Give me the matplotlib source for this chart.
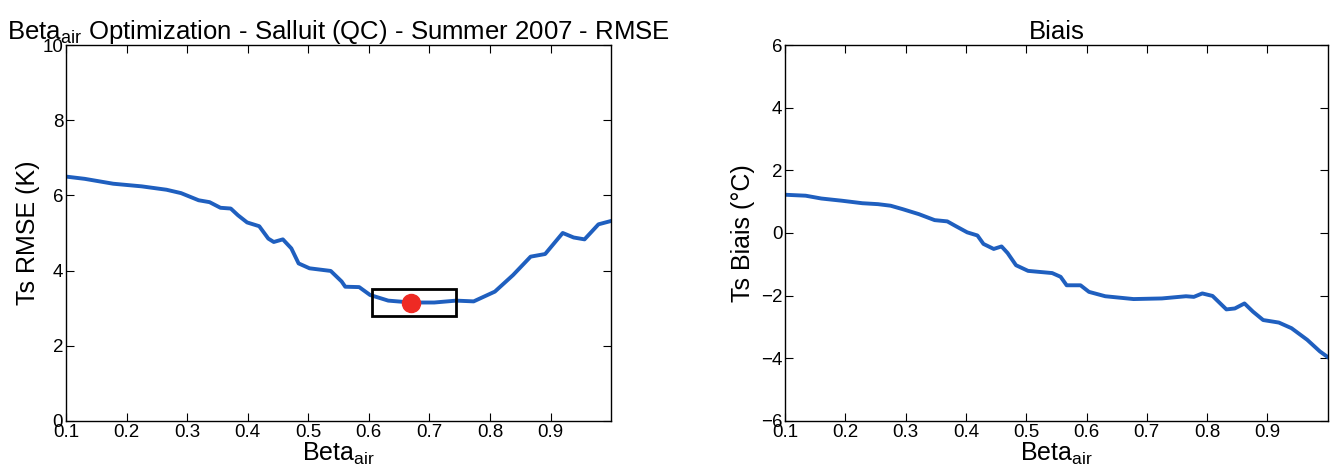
import matplotlib
matplotlib.use("Agg")
import matplotlib.pyplot as plt
from matplotlib.patches import Rectangle

plt.rcParams['font.family'] = ['Liberation Sans', 'DejaVu Sans']
plt.rcParams['mathtext.fontset'] = 'custom'
plt.rcParams['mathtext.rm'] = 'Liberation Sans'
plt.rcParams['mathtext.it'] = 'Liberation Sans'

# RMSE curve (left)
beta_rmse = [0.100, 0.131, 0.178, 0.225, 0.266, 0.290, 0.319, 0.337, 0.355, 0.372,
             0.384, 0.399, 0.419, 0.434, 0.443, 0.458, 0.472, 0.484, 0.502, 0.537,
             0.555, 0.561, 0.584, 0.602, 0.632, 0.670, 0.708, 0.744, 0.773, 0.808,
             0.838, 0.867, 0.891, 0.920, 0.938, 0.956, 0.979, 1.000]
rmse = [6.50, 6.44, 6.31, 6.24, 6.15, 6.06, 5.87, 5.82, 5.67, 5.65,
        5.47, 5.28, 5.18, 4.85, 4.76, 4.83, 4.59, 4.19, 4.06, 3.99,
        3.71, 3.57, 3.56, 3.35, 3.20, 3.15, 3.15, 3.20, 3.18, 3.44,
        3.88, 4.37, 4.44, 5.00, 4.88, 4.83, 5.23, 5.32]

best_beta = 0.670
best_rmse = 3.15
box_x = [0.605, 0.744]
box_y = [2.78, 3.51]

# Bias curve (right)
beta_bias = [0.100, 0.134, 0.160, 0.194, 0.228, 0.254, 0.275, 0.295, 0.322, 0.348,
             0.369, 0.382, 0.402, 0.419, 0.429, 0.446, 0.459, 0.469, 0.483, 0.503,
             0.543, 0.557, 0.567, 0.590, 0.604, 0.631, 0.678, 0.725, 0.765, 0.778,
             0.792, 0.809, 0.832, 0.846, 0.862, 0.876, 0.893, 0.919, 0.940, 0.966,
             0.987, 1.000]
bias = [1.22, 1.19, 1.10, 1.03, 0.95, 0.92, 0.87, 0.76, 0.60, 0.41,
        0.37, 0.23, 0.02, -0.08, -0.35, -0.51, -0.43, -0.64, -1.03, -1.21,
        -1.28, -1.40, -1.67, -1.67, -1.88, -2.02, -2.11, -2.09, -2.02, -2.04,
        -1.93, -2.01, -2.44, -2.41, -2.25, -2.51, -2.78, -2.86, -3.04, -3.41,
        -3.78, -3.96]

xticks = [0.1, 0.2, 0.3, 0.4, 0.5, 0.6, 0.7, 0.8, 0.9]
blue = '#1f5fbf'

fig = plt.figure(figsize=(13.33, 4.74), dpi=100)
ax1 = fig.add_axes([0.0495, 0.112, 0.409, 0.793])
ax2 = fig.add_axes([0.589, 0.112, 0.407, 0.793])

for ax in (ax1, ax2):
    ax.set_xlim(0.1, 1.0)
    ax.set_xticks(xticks)
    ax.set_xticklabels([str(t) for t in xticks])
    ax.tick_params(direction='in', top=True, right=True, labelsize=13.5, length=6, pad=2)
    ax.set_xlabel('Beta$_{\\mathrm{air}}$', fontsize=18, labelpad=0)
    for s in ax.spines.values():
        s.set_linewidth(1.0)

ax1.plot(beta_rmse, rmse, color=blue, lw=2.8)
ax1.add_patch(Rectangle((box_x[0], box_y[0]), box_x[1] - box_x[0], box_y[1] - box_y[0],
                        fill=False, edgecolor='black', lw=2, zorder=3))
ax1.plot([best_beta], [best_rmse], 'o', color='#ee2a24', ms=13, zorder=4)
ax1.set_ylim(0, 10)
ax1.set_yticks([0, 2, 4, 6, 8, 10])
ax1.set_ylabel('Ts RMSE (K)', fontsize=18, labelpad=2)
ax1.set_title('Beta$_{\\mathrm{air}}$ Optimization - Salluit (QC) - Summer 2007 - RMSE',
              fontsize=18.5, pad=4)

ax2.plot(beta_bias, bias, color=blue, lw=2.8)
ax2.set_ylim(-6, 6)
ax2.set_yticks([-6, -4, -2, 0, 2, 4, 6])
ax2.set_ylabel('Ts Biais (°C)', fontsize=18, labelpad=4)
ax2.set_title('Biais', fontsize=18.5, pad=4)

fig.savefig('out.png', dpi=100)
